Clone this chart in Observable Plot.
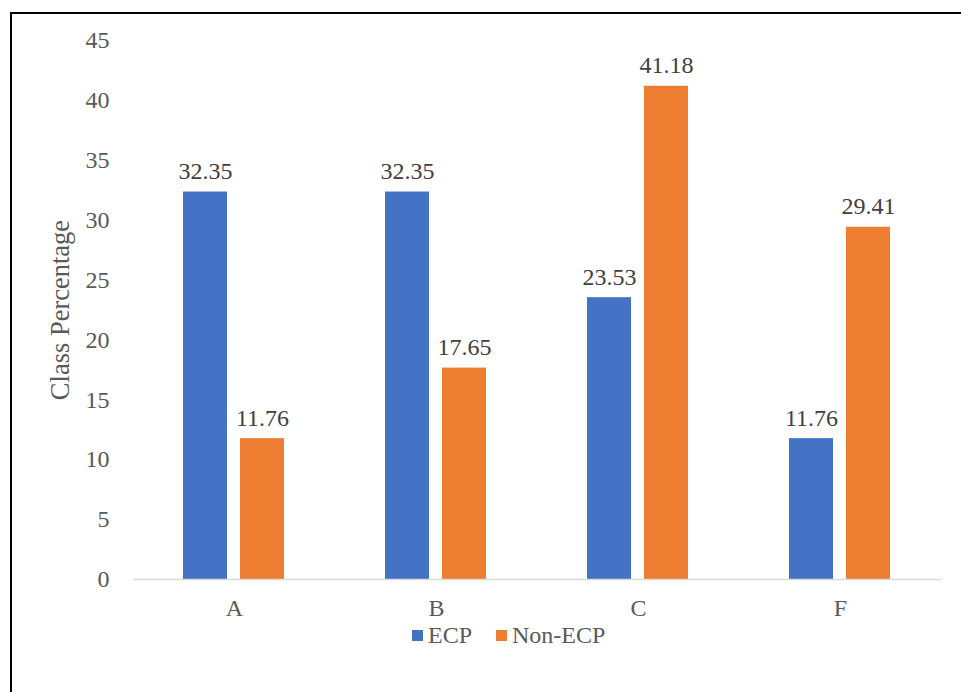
<!DOCTYPE html>
<html>
<head>
<meta charset="utf-8">
<script src="https://cdn.jsdelivr.net/npm/d3@7"></script>
<script src="https://cdn.jsdelivr.net/npm/@observablehq/plot@0.6"></script>
<style>
  body { margin: 0; background: #fff; }
  #wrap { position: relative; width: 961px; height: 692px; overflow: hidden; font-family: "Liberation Serif", Tinos, "Times New Roman", Times, serif; }
  #frame { position: absolute; left: 10px; top: 12px; width: 960px; height: 690px; border-left: 2px solid #000; border-top: 2px solid #000; }
  #chart { position: absolute; left: 0; top: 0; }
  #ytitle { position: absolute; left: 60px; top: 310px; transform: translate(-50%, -50%) rotate(-90deg); white-space: nowrap; font-size: 26.5px; line-height: 30px; color: #595959; }
  #legend { position: absolute; left: 412px; top: 620px; display: flex; align-items: center; font-size: 24px; line-height: 30px; color: #595959; }
  .sw { display: inline-block; width: 11px; height: 11px; margin-right: 5px; }
  .item { display: flex; align-items: center; margin-right: 24px; }
</style>
</head>
<body>
<div id="wrap">
  <div id="frame"></div>
  <div id="chart"></div>
  <div id="ytitle"></div>
  <div id="legend"></div>
</div>
<script>
const categories = ["A", "B", "C", "F"];
const seriesNames = ["ECP", "Non-ECP"];
const ecpValues = [32.35, 32.35, 23.53, 11.76];
const nonEcpValues = [11.76, 17.65, 41.18, 29.41];
const seriesColors = ["#4472C4", "#ED7D31"];
const yTicks = [0, 5, 10, 15, 20, 25, 30, 35, 40, 45];
const yTitle = "Class Percentage";

const data = [];
categories.forEach((c, i) => {
  data.push({cat: c, series: seriesNames[0], value: ecpValues[i]});
  data.push({cat: c, series: seriesNames[1], value: nonEcpValues[i]});
});

const serif = "'Liberation Serif', Tinos, 'Times New Roman', Times, serif";

const plot = Plot.plot({
  width: 961,
  height: 620,
  marginLeft: 132,
  marginRight: 19,
  marginTop: 40,
  marginBottom: 41,
  style: {fontFamily: serif, fontSize: "24px", color: "#595959", background: "transparent"},
  fx: {domain: categories, padding: 0, label: null},
  x: {domain: seriesNames, paddingInner: 0.224, paddingOuter: 0.857, axis: null},
  y: {domain: [0, 45], label: null},
  color: {domain: seriesNames, range: seriesColors},
  marks: [
    Plot.axisFx({anchor: "bottom", tickSize: 0, tickPadding: 19, label: null, fontSize: 24, fontFamily: serif}),
    Plot.axisY({ticks: yTicks, tickSize: 0, tickPadding: 24, label: null, fontSize: 24, fontFamily: serif}),
    Plot.barY(data, {fx: "cat", x: "series", y: "value", fill: "series"}),
    Plot.ruleY([0], {stroke: "#d9d9d9", strokeWidth: 1.5}),
    Plot.text(data, {fx: "cat", x: "series", y: "value", text: d => d.value.toFixed(2), lineAnchor: "bottom", dy: -13, fill: "#404040", fontSize: 24, fontFamily: serif})
  ]
});
document.getElementById("chart").appendChild(plot);
document.getElementById("ytitle").textContent = yTitle;

const legend = document.getElementById("legend");
seriesNames.forEach((s, i) => {
  const item = document.createElement("span");
  item.className = "item";
  const sw = document.createElement("span");
  sw.className = "sw";
  sw.style.background = seriesColors[i];
  item.appendChild(sw);
  item.appendChild(document.createTextNode(s));
  legend.appendChild(item);
});
</script>
</body>
</html>
